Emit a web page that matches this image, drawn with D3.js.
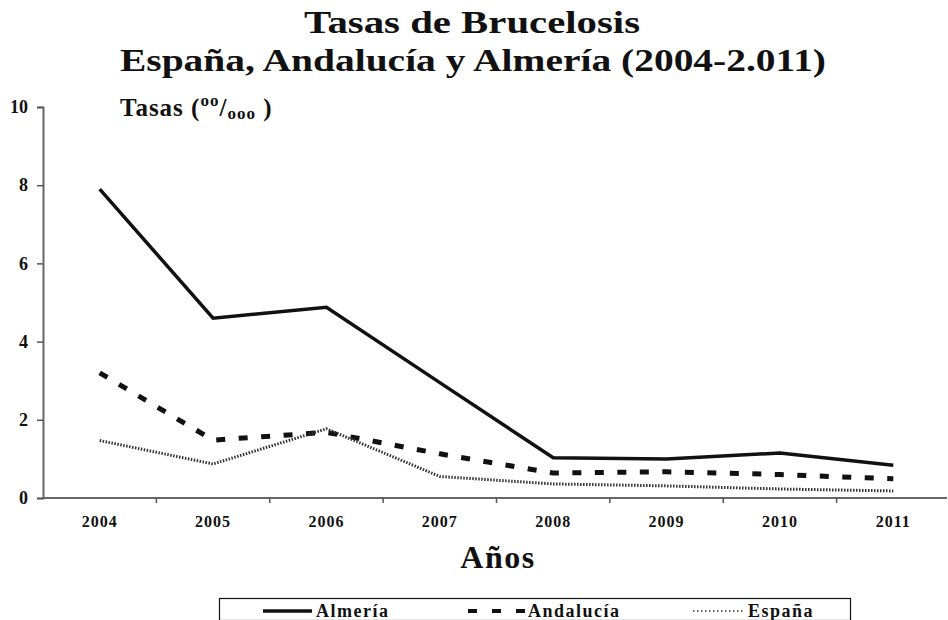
<!DOCTYPE html>
<html>
<head>
<meta charset="utf-8">
<script src="https://cdn.jsdelivr.net/npm/d3@7"></script>
<style>
  body { margin: 0; background: #fff; }
  text { font-family: "Liberation Serif", "Times New Roman", serif; font-weight: bold; fill: #111; }
</style>
</head>
<body>
<div id="chart"></div>
<script>
const years = ["2004", "2005", "2006", "2007", "2008", "2009", "2010", "2011"];
const almeria = [7.9, 4.6, 4.88, 2.95, 1.03, 1.0, 1.15, 0.84];
const andalucia = [3.2, 1.48, 1.68, 1.13, 0.64, 0.67, 0.6, 0.49];
const espana = [1.47, 0.87, 1.77, 0.55, 0.36, 0.31, 0.23, 0.18];
const yTicks = [0, 2, 4, 6, 8, 10];

const width = 948, height = 620;

const svg = d3.select("#chart")
    .append("svg")
    .attr("width", width)
    .attr("height", height);

const x = d3.scaleBand().domain(years).range([43, 950]).padding(0);
const y = d3.scaleLinear().domain([0, 10]).range([498, 107]);

// title (stretched a bit wider like the original)
svg.append("text").attr("x", 304).attr("y", 33)
    .attr("textLength", 336).attr("lengthAdjust", "spacingAndGlyphs")
    .style("font-size", "32px").text("Tasas de Brucelosis");
svg.append("text").attr("x", 120).attr("y", 71)
    .attr("textLength", 706).attr("lengthAdjust", "spacingAndGlyphs")
    .style("font-size", "32px").text("España, Andalucía y Almería (2004-2.011)");

// y axis
const yAxis = svg.append("g")
    .attr("transform", "translate(43,0)")
    .call(d3.axisLeft(y).tickValues(yTicks).tickSize(6).tickPadding(9));
yAxis.select(".domain").attr("stroke", "#666").attr("stroke-width", 2);
yAxis.selectAll(".tick line").attr("stroke", "#555").attr("stroke-width", 1.5);
yAxis.selectAll(".tick text").style("font-size", "18px").style("font-family", "Liberation Serif").style("font-weight", "bold").attr("fill", "#111");

// x axis line and ticks at category boundaries
svg.append("line").attr("x1", 43).attr("x2", 947).attr("y1", y(0)).attr("y2", y(0))
    .attr("stroke", "#666").attr("stroke-width", 2);
svg.append("g").selectAll("line")
    .data(years.slice(1))
    .join("line")
    .attr("x1", d => x(d)).attr("x2", d => x(d))
    .attr("y1", y(0)).attr("y2", y(0) + 5)
    .attr("stroke", "#555").attr("stroke-width", 1.5);
svg.append("g").selectAll("text")
    .data(years)
    .join("text")
    .attr("x", d => x(d) + x.bandwidth() / 2)
    .attr("y", 527)
    .attr("text-anchor", "middle")
    .style("font-size", "16px")
    .style("letter-spacing", "1px")
    .text(d => d);

// axis titles
const yl = svg.append("text").attr("x", 120).attr("y", 116).style("font-size", "25px").style("letter-spacing", "1px");
yl.append("tspan").text("Tasas  (");
yl.append("tspan").attr("dy", -10).style("font-size", "17px").text("oo");
yl.append("tspan").attr("dy", 10).text("/");
yl.append("tspan").attr("dy", 3).style("font-size", "17px").text("ooo");
yl.append("tspan").attr("dy", -3).text("   )");

svg.append("text").attr("x", 498).attr("y", 568).attr("text-anchor", "middle")
    .style("font-size", "32px").style("letter-spacing", "1.5px").text("Años");

// lines
const line = d3.line()
    .x((d, i) => x(years[i]) + x.bandwidth() / 2)
    .y(d => y(d));

const series = [
    { name: "Almería", values: almeria, width: 3.5, dash: null, color: "#111" },
    { name: "Andalucía", values: andalucia, width: 5, dash: "9,13.5", color: "#111" },
    { name: "España", values: espana, width: 3, dash: "1.5,1.5", color: "#333" }
];

svg.append("g").selectAll("path")
    .data(series)
    .join("path")
    .attr("d", d => line(d.values))
    .attr("fill", "none")
    .attr("stroke", d => d.color)
    .attr("stroke-width", d => d.width)
    .attr("stroke-dasharray", d => d.dash);

// legend
svg.append("rect").attr("x", 219.5).attr("y", 598.5).attr("width", 631).attr("height", 22)
    .attr("fill", "none").attr("stroke", "#111").attr("stroke-width", 1.2);

const legendPos = [263, 468, 693];
const leg = svg.append("g").selectAll("g")
    .data(series)
    .join("g")
    .attr("transform", (d, i) => `translate(${legendPos[i]},611)`);
leg.append("line")
    .attr("x1", 0).attr("x2", (d, i) => i === 0 ? 49 : i === 1 ? 59 : 52)
    .attr("stroke", d => d.color)
    .attr("stroke-width", (d, i) => i === 0 ? 3.5 : i === 1 ? 4 : 1.5)
    .attr("stroke-dasharray", (d, i) => i === 1 ? "9,15" : i === 2 ? "1.5,2.5" : null);
leg.append("text")
    .attr("x", (d, i) => i === 0 ? 53 : i === 1 ? 60 : 55)
    .attr("y", 6)
    .style("font-size", "18px")
    .style("letter-spacing", "1.5px")
    .text(d => d.name);
</script>
</body>
</html>
